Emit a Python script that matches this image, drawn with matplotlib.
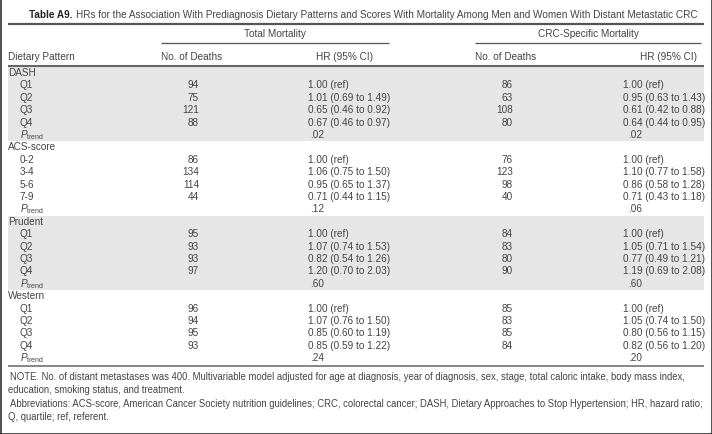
import matplotlib
matplotlib.use("Agg")
import matplotlib.pyplot as plt
from matplotlib.patches import Rectangle

plt.rcParams['font.family'] = ['Liberation Sans', 'DejaVu Sans']
plt.rcParams['mathtext.fontset'] = 'custom'
plt.rcParams['mathtext.rm'] = 'Liberation Sans'
plt.rcParams['mathtext.it'] = 'Liberation Sans:italic'

# ---------------- data ----------------
title_bold = "Table A9."
title_rest = ("HRs for the Association With Prediagnosis Dietary Patterns and Scores "
              "With Mortality Among Men and Women With Distant Metastatic CRC")
group_headers = ["Total Mortality", "CRC-Specific Mortality"]
col_headers = ["Dietary Pattern", "No. of Deaths", "HR (95% CI)", "No. of Deaths", "HR (95% CI)"]

patterns = ["DASH", "ACS-score", "Prudent", "Western"]
levels_dash = ["Q1", "Q2", "Q3", "Q4"]
levels_acs = ["0-2", "3-4", "5-6", "7-9"]
levels_prudent = ["Q1", "Q2", "Q3", "Q4"]
levels_western = ["Q1", "Q2", "Q3", "Q4"]

total_deaths_dash = [94, 75, 121, 88]
total_hr_dash = ["1.00 (ref)", "1.01 (0.69 to 1.49)", "0.65 (0.46 to 0.92)", "0.67 (0.46 to 0.97)"]
total_p_dash = ".02"
crc_deaths_dash = [86, 63, 108, 80]
crc_hr_dash = ["1.00 (ref)", "0.95 (0.63 to 1.43)", "0.61 (0.42 to 0.88)", "0.64 (0.44 to 0.95)"]
crc_p_dash = ".02"

total_deaths_acs = [86, 134, 114, 44]
total_hr_acs = ["1.00 (ref)", "1.06 (0.75 to 1.50)", "0.95 (0.65 to 1.37)", "0.71 (0.44 to 1.15)"]
total_p_acs = ".12"
crc_deaths_acs = [76, 123, 98, 40]
crc_hr_acs = ["1.00 (ref)", "1.10 (0.77 to 1.58)", "0.86 (0.58 to 1.28)", "0.71 (0.43 to 1.18)"]
crc_p_acs = ".06"

total_deaths_prudent = [95, 93, 93, 97]
total_hr_prudent = ["1.00 (ref)", "1.07 (0.74 to 1.53)", "0.82 (0.54 to 1.26)", "1.20 (0.70 to 2.03)"]
total_p_prudent = ".60"
crc_deaths_prudent = [84, 83, 80, 90]
crc_hr_prudent = ["1.00 (ref)", "1.05 (0.71 to 1.54)", "0.77 (0.49 to 1.21)", "1.19 (0.69 to 2.08)"]
crc_p_prudent = ".60"

total_deaths_western = [96, 94, 95, 93]
total_hr_western = ["1.00 (ref)", "1.07 (0.76 to 1.50)", "0.85 (0.60 to 1.19)", "0.85 (0.59 to 1.22)"]
total_p_western = ".24"
crc_deaths_western = [85, 83, 85, 84]
crc_hr_western = ["1.00 (ref)", "1.05 (0.74 to 1.50)", "0.80 (0.56 to 1.15)", "0.82 (0.56 to 1.20)"]
crc_p_western = ".20"

shaded = [True, False, True, False]

note_lines = [
    "NOTE. No. of distant metastases was 400. Multivariable model adjusted for age at diagnosis, year of diagnosis, sex, stage, total caloric intake, body mass index,",
    "education, smoking status, and treatment.",
    "Abbreviations: ACS-score, American Cancer Society nutrition guidelines; CRC, colorectal cancer; DASH, Dietary Approaches to Stop Hypertension; HR, hazard ratio;",
    "Q, quartile; ref, referent.",
]
note_indent = [True, False, True, False]

blocks = [
    (levels_dash, total_deaths_dash, total_hr_dash, total_p_dash, crc_deaths_dash, crc_hr_dash, crc_p_dash),
    (levels_acs, total_deaths_acs, total_hr_acs, total_p_acs, crc_deaths_acs, crc_hr_acs, crc_p_acs),
    (levels_prudent, total_deaths_prudent, total_hr_prudent, total_p_prudent, crc_deaths_prudent, crc_hr_prudent, crc_p_prudent),
    (levels_western, total_deaths_western, total_hr_western, total_p_western, crc_deaths_western, crc_hr_western, crc_p_western),
]

# ---------------- layout ----------------
W, H = 712, 434
fig = plt.figure(figsize=(W / 100, H / 100), dpi=100)
ax = fig.add_axes([0, 0, 1, 1])
ax.set_xlim(0, W)
ax.set_ylim(H, 0)
ax.axis('off')

TXT = '#444444'
FS = 7.2
FS_TITLE = 7.2
FS_NOTE = 6.85
GRAY = '#e6e6e6'

x_label = 8
x_sub = 20
x_td_head = 161
x_td = 199
x_thr = 308
x_thr_head = 345
x_cd_head = 475
x_cd = 513
x_chr = 623
x_chr_head = 668

# title
t1 = ax.text(29, 15, title_bold, fontsize=FS_TITLE, fontweight='bold', color='#222222', va='center', ha='left')
fig.canvas.draw()
bb = t1.get_window_extent()
x_after = bb.x1 + 4
ax.text(x_after, 15, title_rest, fontsize=FS_TITLE, color=TXT, va='center', ha='left')

ax.plot([8, 704], [23.5, 23.5], color='#555555', lw=1.6, solid_capstyle='butt')

# group headers
ax.text((161 + 389) / 2, 34, group_headers[0], fontsize=FS, color=TXT, ha='center', va='center')
ax.text((475 + 701) / 2, 34, group_headers[1], fontsize=FS, color=TXT, ha='center', va='center')
ax.plot([161, 389], [42.5, 42.5], color='#555555', lw=0.9, solid_capstyle='butt')
ax.plot([475, 701], [42.5, 42.5], color='#555555', lw=0.9, solid_capstyle='butt')

# column headers
yh = 57
ax.text(x_label, yh, col_headers[0], fontsize=FS, color=TXT, ha='left', va='center')
ax.text(x_td_head, yh, col_headers[1], fontsize=FS, color=TXT, ha='left', va='center')
ax.text(x_thr_head, yh, col_headers[2], fontsize=FS, color=TXT, ha='center', va='center')
ax.text(x_cd_head, yh, col_headers[3], fontsize=FS, color=TXT, ha='left', va='center')
ax.text(x_chr_head, yh, col_headers[4], fontsize=FS, color=TXT, ha='center', va='center')

# rows
y0 = 73.0
dy = 12.4
row = 0
for bi, (name, blk) in enumerate(zip(patterns, blocks)):
    levels, td, thr, tp, cd, chr_, cp = blk
    n_rows = 2 + len(levels)
    top = y0 + row * dy - dy / 2
    if shaded[bi]:
        ax.add_patch(Rectangle((8, top), 696, n_rows * dy, facecolor=GRAY, edgecolor='none', zorder=0))
    y = y0 + row * dy
    ax.text(x_label, y, name, fontsize=FS, color=TXT, ha='left', va='center')
    row += 1
    for lv, a, b, c, d in zip(levels, td, thr, cd, chr_):
        y = y0 + row * dy
        ax.text(x_sub, y, lv, fontsize=FS, color=TXT, ha='left', va='center')
        ax.text(x_td, y, str(a), fontsize=FS, color=TXT, ha='right', va='center')
        ax.text(x_thr, y, b, fontsize=FS, color=TXT, ha='left', va='center')
        ax.text(x_cd, y, str(c), fontsize=FS, color=TXT, ha='right', va='center')
        ax.text(x_chr, y, d, fontsize=FS, color=TXT, ha='left', va='center')
        row += 1
    y = y0 + row * dy
    ax.text(x_sub, y, r"$P_{\mathrm{trend}}$", fontsize=FS, color=TXT, ha='left', va='center')
    ax.text(x_thr + 2, y, tp, fontsize=FS, color=TXT, ha='left', va='center')
    ax.text(x_chr + 5, y, cp, fontsize=FS, color=TXT, ha='left', va='center')
    row += 1

# header line (drawn after the bands)
ax.plot([8, 704], [66, 66], color='#666666', lw=1.5, solid_capstyle='butt', zorder=3)
y_bottom = y0 + row * dy - dy / 2 + 1.5
ax.plot([8, 704], [y_bottom, y_bottom], color='#666666', lw=1.1, solid_capstyle='butt', zorder=3)

# notes
ny0 = 377
for i, (ln, ind) in enumerate(zip(note_lines, note_indent)):
    ax.text(10 if ind else 8, ny0 + i * 13.4, ln, fontsize=FS_NOTE, color=TXT, ha='left', va='center')

# frame
ax.plot([0.5, 0.5], [0, H - 0.5], color='#333333', lw=1.2)
ax.plot([W - 0.5, W - 0.5], [0, H - 0.5], color='#333333', lw=1.2)
ax.plot([0, W], [H - 0.5, H - 0.5], color='#333333', lw=1.2)

fig.savefig("out.png", dpi=100)
